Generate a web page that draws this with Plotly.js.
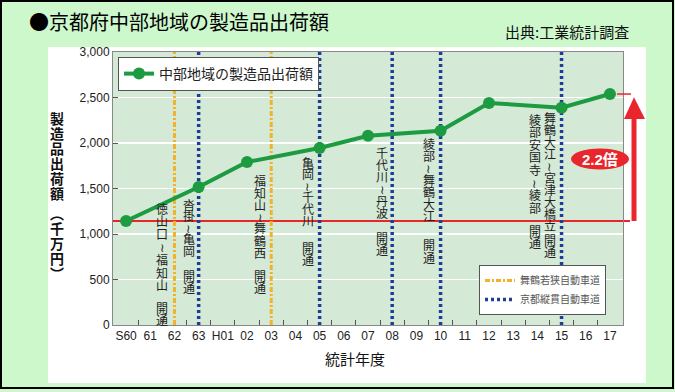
<!DOCTYPE html>
<html><head><meta charset="utf-8">
<script src="https://cdn.plot.ly/plotly-3.0.1.min.js"></script>
<style>html,body{margin:0;padding:0;background:#fff}#chart{width:675px;height:392px}</style>
</head><body><div id="chart"></div>
<script>
// ---- data ----
const years = ['S60','61','62','63','H01','02','03','04','05','06','07','08','09','10','11','12','13','14','15','16','17'];
const seriesName = '中部地域の製造品出荷額';
const statYears = ['S60','63','02','05','07','10','12','15','17'];
const shipments = [1143, 1516, 1791, 1945, 2080, 2135, 2440, 2388, 2538];
const maizuruName = '舞鶴若狭自動車道';
const maizuruYears = ['62','03'];
const keijuName = '京都縦貫自動車道';
const keijuYears = ['63','05','08','10','15'];
const routeLabels = ['徳山口≀福知山','沓掛≀亀岡','福知山≀舞鶴西','亀岡≀千代川','千代川≀丹波','綾部≀舞鶴大江','綾部安国寺≀綾部','舞鶴大江≀宮津大橋立'];
const routeYears = ['62','63','03','05','08','10','15','15'];
const openText = '開通';
const ratioText = '2.2倍';
const titleText = '●京都府中部地域の製造品出荷額';
const sourceText = '出典:工業統計調査';
const xTitle = '統計年度';
const yTitle = '製造品出荷額︵千万円︶';

// ---- layout helpers ----
const W = 675, H = 392, ML = 113, MR = 52, MT = 52, MB = 67;
const PW = W - ML - MR, PH = H - MT - MB;
const px2x = p => (p - ML) / PW;
const py2y = p => (H - MB - p) / PH;
const JP = '"Noto Sans CJK JP", "Noto Sans", sans-serif';
const LAT = 'Arial, "Liberation Sans", sans-serif';
const RED = '#e8262c';

function vLines(cats){
  const x = [], y = [];
  cats.forEach(c => { x.push(c, c, null); y.push(0, 3000, null); });
  return {x, y};
}
const yl = vLines(maizuruYears), bl = vLines(keijuYears);

const traces = [
  {type:'scatter', mode:'lines', name:maizuruName, x:yl.x, y:yl.y, legend:'legend2',
   line:{color:'#f2b229', width:3, dash:'5px,2px,2px,2px'}, hoverinfo:'skip'},
  {type:'scatter', mode:'lines', name:keijuName, x:bl.x, y:bl.y, legend:'legend2',
   line:{color:'#1f3c99', width:3.5, dash:'3px,3px'}, hoverinfo:'skip'},
  {type:'scatter', mode:'lines+markers', name:seriesName, x:statYears, y:shipments, legend:'legend',
   line:{color:'#1c9b40', width:4}, marker:{color:'#1c9b40', size:12}}
];

const annotations = [];
const labelShift = [-12,-10,-11,-12,-10,-12,-27,-12];
const labelTop = [208,204,180,162,152,143,119,117];
const labelStep = [12.8,11.6,12.0,11.6,12.0,12.0,12.6,12.1];
const openTop = [307,275,275,247,237,245,230,239];
function vtext(str, xidx, xshift, top, step){
  Array.from(str).forEach((ch,k) => {
    annotations.push({text:ch, x:xidx, xref:'x', xshift:xshift, y:py2y(top + k*step), yref:'paper',
      showarrow:false, xanchor:'center', yanchor:'middle', font:{family:JP, size:12, color:'#222'}});
  });
}
routeLabels.forEach((s,i) => {
  const idx = years.indexOf(routeYears[i]);
  vtext(s, idx, labelShift[i], labelTop[i], labelStep[i]);
  vtext(openText, idx, labelShift[i], openTop[i], 12.2);
});

// y-axis title, stacked
Array.from(yTitle).forEach((ch,k) => {
  const py = 118 + k*15 + (k >= 6 ? 5 : 0);
  annotations.push({text:ch, x:px2x(57), xref:'paper', y:py2y(py), yref:'paper', showarrow:false,
    xanchor:'center', yanchor:'middle', font:{family:JP, size:14, color:'#111', weight:700}});
});

annotations.push(
  {text:titleText, x:px2x(27), xref:'paper', y:py2y(22), yref:'paper', xanchor:'left', yanchor:'middle',
   showarrow:false, font:{family:JP, size:20, color:'#000'}},
  {text:sourceText, x:px2x(631), xref:'paper', y:py2y(31), yref:'paper', xanchor:'right', yanchor:'middle',
   showarrow:false, font:{family:JP, size:15, color:'#111'}},
  {text:xTitle, x:px2x(355), xref:'paper', y:py2y(358), yref:'paper', xanchor:'center', yanchor:'middle',
   showarrow:false, font:{family:JP, size:15, color:'#111'}},
  {text:'<b>' + ratioText + '</b>', x:px2x(600), xref:'paper', y:py2y(159), yref:'paper', xanchor:'center', yanchor:'middle',
   showarrow:false, font:{family:LAT + ',' + JP, size:15, color:'#ffffff'}}
);

const last = shipments[shipments.length-1];
const tip = last - 35, base = tip - 240;
const ax = px2x(634), axl = px2x(624), axr = px2x(645);
const shapes = [
  {type:'path', xref:'paper', yref:'paper', layer:'below', fillrule:'evenodd', fillcolor:'#ccf8cc', line:{width:0},
   path:`M ${px2x(0)},${py2y(0)} L ${px2x(W)},${py2y(0)} L ${px2x(W)},${py2y(H)} L ${px2x(0)},${py2y(H)} Z ` +
        `M ${px2x(48)},${py2y(47)} L ${px2x(646)},${py2y(47)} L ${px2x(646)},${py2y(383)} L ${px2x(48)},${py2y(383)} Z`},
  {type:'rect', xref:'paper', yref:'paper', x0:px2x(1), x1:px2x(673), y0:py2y(1), y1:py2y(388),
   line:{color:'#000', width:2}, fillcolor:'rgba(0,0,0,0)'},
  {type:'line', xref:'paper', yref:'y', x0:0, x1:px2x(630), y0:shipments[0], y1:shipments[0],
   line:{color:RED, width:2}, layer:'below'},
  {type:'line', xref:'paper', yref:'y', x0:px2x(617), x1:px2x(631), y0:last, y1:last, line:{color:RED, width:1.5}},
  {type:'line', xref:'paper', yref:'y', x0:ax, x1:ax, y0:shipments[0], y1:base + 5, line:{color:RED, width:5}},
  {type:'path', xref:'paper', yref:'y', fillcolor:RED, line:{width:0},
   path:`M ${axl},${base} L ${ax},${tip} L ${axr},${base} Z`},
  {type:'circle', xref:'paper', yref:'paper', x0:px2x(571), x1:px2x(629), y0:py2y(169.5), y1:py2y(148.5),
   fillcolor:RED, line:{width:0}}
];

const layout = {
  width:W, height:H,
  margin:{l:ML, r:MR, t:MT, b:MB, pad:0},
  paper_bgcolor:'#ffffff', plot_bgcolor:'#d5e9d7',
  font:{family:LAT, color:'#222', size:12},
  xaxis:{type:'category', categoryorder:'array', categoryarray:years, range:[-0.54, 20.54],
    showgrid:false, ticks:'inside', tickson:'boundaries', tickangle:0, ticklen:5, tickcolor:'#555', showline:true, linecolor:'#888',
    mirror:true, zeroline:false, tickfont:{family:LAT, size:12, color:'#222'}, fixedrange:true},
  yaxis:{range:[0,3000], dtick:500, tickformat:',d', showgrid:true, gridcolor:'#ffffff', gridwidth:1.5,
    ticks:'inside', ticklen:5, tickcolor:'#555', showline:true, linecolor:'#888', mirror:true,
    zeroline:false, tickfont:{family:LAT, size:12, color:'#222'}, fixedrange:true},
  showlegend:true,
  legend:{x:px2x(118), y:py2y(57), xanchor:'left', yanchor:'top', bgcolor:'#ffffff', bordercolor:'#555',
    borderwidth:1, font:{family:JP, size:14, color:'#222'}},
  legend2:{x:px2x(479), y:py2y(265), xanchor:'left', yanchor:'top', bgcolor:'#ffffff', bordercolor:'#555',
    borderwidth:1, font:{family:JP, size:10, color:'#555'}},
  shapes:shapes, annotations:annotations
};

Plotly.newPlot('chart', traces, layout, {displayModeBar:false, staticPlot:true});
</script>
</body></html>
